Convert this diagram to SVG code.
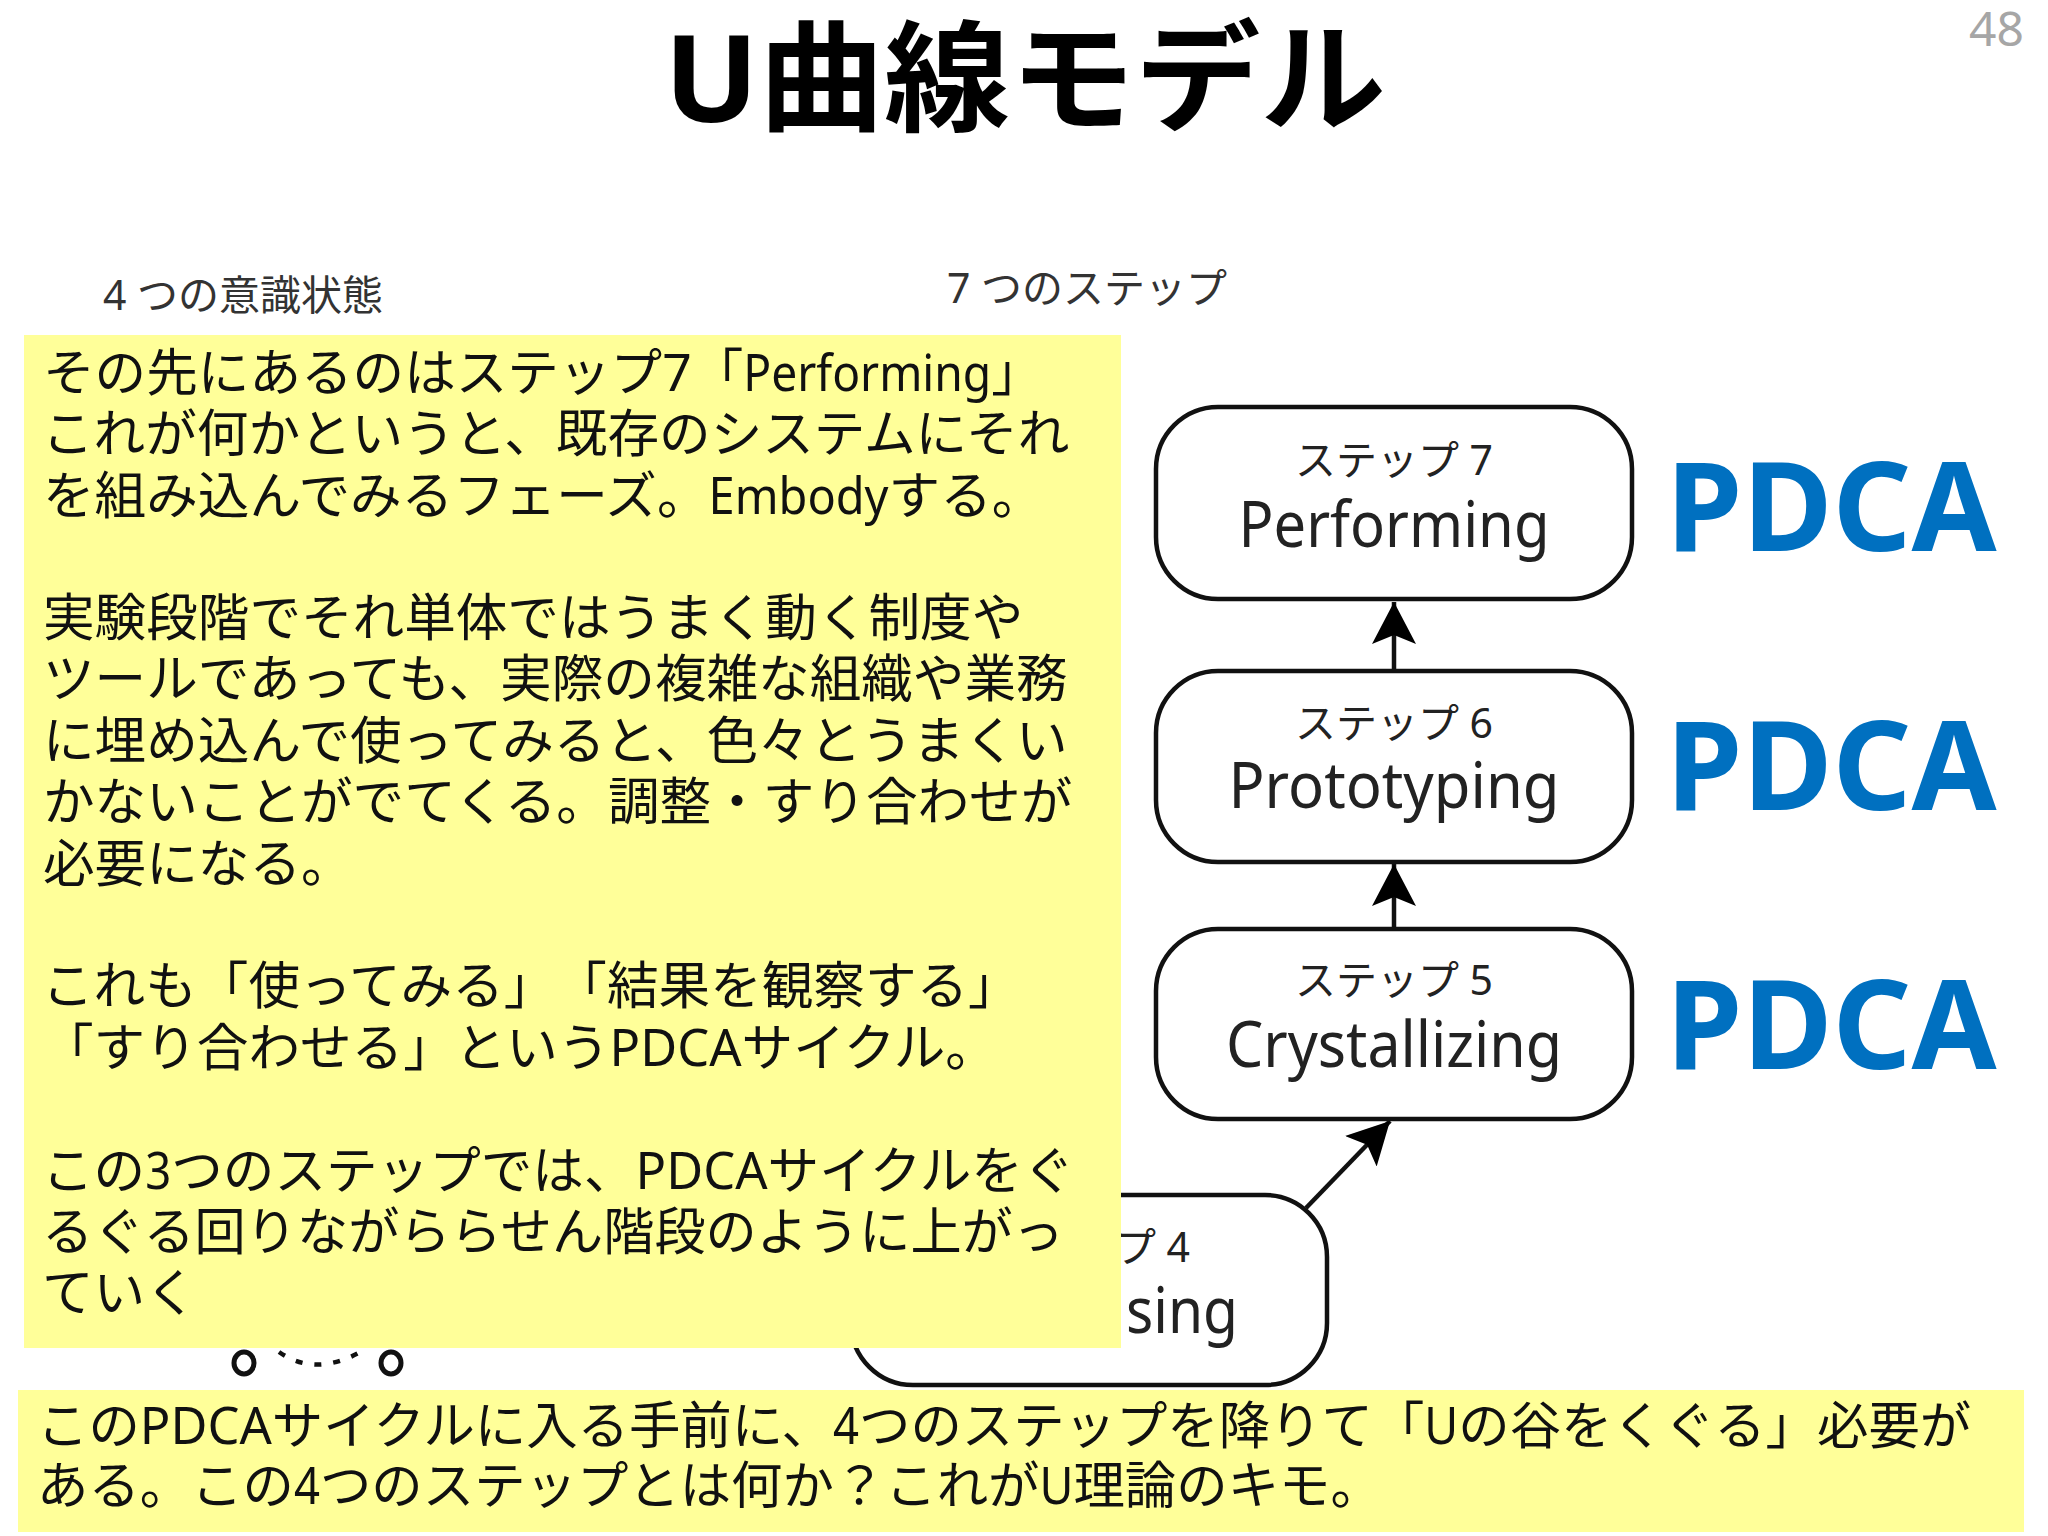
<svg xmlns="http://www.w3.org/2000/svg" width="2048" height="1536" viewBox="0 0 2048 1536">
<style>
text{font-family:"Noto Sans","Noto Sans CJK JP",sans-serif;text-spacing-trim:space-all}
.n{fill:#fff;stroke:#111;stroke-width:4.5}
.s{font-size:41px;fill:#222;text-anchor:middle}
.e{font-size:63px;fill:#222;text-anchor:middle}
.p{font-size:123px;font-weight:700;fill:#0070c0}
.t{font-size:51.6px;fill:#111}
.u{font-size:51.4px;fill:#111}
.h{font-size:41px;fill:#333}
.y{fill:#ffff99}
.c{stroke:#111;stroke-width:4.5;fill:none;marker-end:url(#a)}
</style>
<defs><marker id="a" markerUnits="userSpaceOnUse" markerWidth="50" markerHeight="44" refX="42" refY="22" orient="auto"><path d="M0 0L42 22L0 44L9 22Z" fill="#000"/></marker></defs>
<rect width="2048" height="1536" fill="#fff"/>
<text id="title" x="1025" y="122" text-anchor="middle" font-size="120" font-weight="700" fill="#000" textLength="722" lengthAdjust="spacingAndGlyphs">U曲線モデル</text>
<text id="page" x="2024" y="46" text-anchor="end" font-size="48" fill="#a6a6a6">48</text>
<text id="h1" class="h" x="103" y="310">4 つの意識状態</text>
<text id="h2" class="h" x="947" y="303">7 つのステップ</text>
<g id="connectors">
<path class="c" d="M1394 671V602"/>
<path class="c" d="M1394 929V864"/>
<path class="c" d="M1306 1208L1390 1121"/>
</g>
<g id="node7"><rect class="n" x="1156" y="407" width="476" height="192" rx="62"/><text class="s" x="1394" y="475">ステップ 7</text><text class="e" x="1394" y="547" textLength="311" lengthAdjust="spacingAndGlyphs">Performing</text></g>
<g id="node6"><rect class="n" x="1156" y="671" width="476" height="191" rx="62"/><text class="s" x="1394" y="738">ステップ 6</text><text class="e" x="1394" y="808" textLength="331" lengthAdjust="spacingAndGlyphs">Prototyping</text></g>
<g id="node5"><rect class="n" x="1156" y="929" width="476" height="190" rx="62"/><text class="s" x="1394" y="995">ステップ 5</text><text class="e" x="1394" y="1067" textLength="336" lengthAdjust="spacingAndGlyphs">Crystallizing</text></g>
<g id="node4"><rect class="n" x="851" y="1195" width="476" height="190" rx="62"/><text class="s" style="text-anchor:end" x="1190" y="1262">プ 4</text><text class="e" style="text-anchor:end" x="1238" y="1333" textLength="112" lengthAdjust="spacingAndGlyphs">sing</text></g>
<g id="states" fill="none" stroke="#111"><ellipse cx="244" cy="1363" rx="10" ry="11" stroke-width="5"/><ellipse cx="391" cy="1363" rx="10" ry="11" stroke-width="5"/><path d="M279 1352Q316 1378 364 1350" stroke-width="4.5" stroke-dasharray="7 12"/></g>
<g id="note1"><rect class="y" x="24" y="335" width="1097" height="1013"/>
<text class="t" x="43" y="391">その先にあるのはステップ7「<tspan textLength="248" lengthAdjust="spacingAndGlyphs">Performing</tspan>」</text>
<text class="t" x="42" y="452">これが何かというと、既存のシステムにそれ</text>
<text class="t" x="43" y="514">を組み込んでみるフェーズ。<tspan textLength="180" lengthAdjust="spacingAndGlyphs">Embody</tspan>する。</text>
<text class="t" x="43" y="636">実験段階でそれ単体ではうまく動く制度や</text>
<text class="t" x="43" y="697">ツールであっても、実際の複雑な組織や業務</text>
<text class="t" x="43" y="759">に埋め込んで使ってみると、色々とうまくい</text>
<text class="t" x="43" y="820">かないことがでてくる。調整・すり合わせが</text>
<text class="t" x="43" y="882">必要になる。</text>
<text class="t" x="42" y="1004">これも「使ってみる」「結果を観察する」</text>
<text class="t" x="42" y="1066">「すり合わせる」という<tspan textLength="132" lengthAdjust="spacingAndGlyphs">PDCA</tspan>サイクル。</text>
<text class="t" x="42" y="1189">この<tspan textLength="26" lengthAdjust="spacingAndGlyphs">3</tspan>つのステップでは、<tspan textLength="132" lengthAdjust="spacingAndGlyphs">PDCA</tspan>サイクルをぐ</text>
<text class="t" x="42" y="1250" textLength="1022" lengthAdjust="spacingAndGlyphs">るぐる回りながららせん階段のように上がっ</text>
<text class="t" x="42" y="1311">ていく</text>
</g>
<g id="note2"><rect class="y" x="18" y="1390" width="2006" height="142"/>
<text class="u" x="37" y="1444">この<tspan textLength="132" lengthAdjust="spacingAndGlyphs">PDCA</tspan>サイクルに入る手前に、<tspan textLength="26" lengthAdjust="spacingAndGlyphs">4</tspan>つのステップを降りて「<tspan textLength="34" lengthAdjust="spacingAndGlyphs">U</tspan>の谷をくぐる」必要が</text>
<text class="u" x="37" y="1504">ある。この<tspan textLength="26" lengthAdjust="spacingAndGlyphs">4</tspan>つのステップとは何か？これが<tspan textLength="34" lengthAdjust="spacingAndGlyphs">U</tspan>理論のキモ。</text>
</g>
<g id="pdca"><text class="p" x="1666" y="551">PDCA</text><text class="p" x="1666" y="810">PDCA</text><text class="p" x="1666" y="1069">PDCA</text></g>
</svg>
